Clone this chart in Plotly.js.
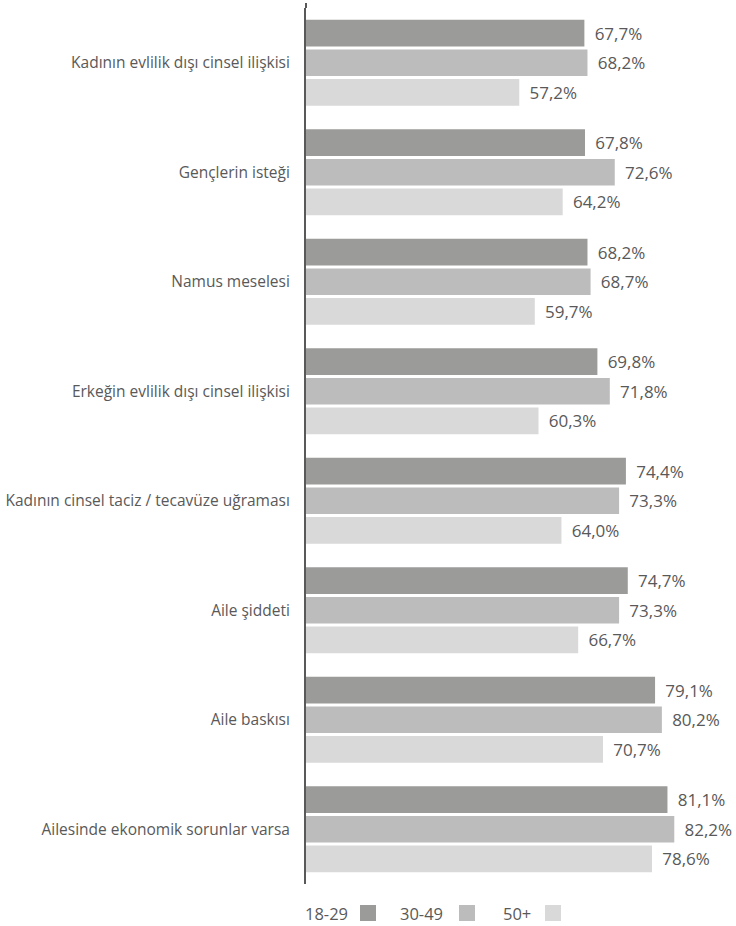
<!DOCTYPE html>
<html><head><meta charset="utf-8">
<script src="https://cdn.plot.ly/plotly-3.0.1.min.js"></script>
<style>body{margin:0;background:#fff}#c{width:736px;height:926px}</style>
</head><body><div id="c"></div>
<script>
const categories = ["Kadının evlilik dışı cinsel ilişkisi","Gençlerin isteği","Namus meselesi","Erkeğin evlilik dışı cinsel ilişkisi","Kadının cinsel taciz / tecavüze uğraması","Aile şiddeti","Aile baskısı","Ailesinde ekonomik sorunlar varsa"];
const seriesNames = ["18-29","30-49","50+"];
const v1829 = [67.7,67.8,68.2,69.8,74.4,74.7,79.1,81.1];
const v3049 = [68.2,72.6,68.7,71.8,73.3,73.3,80.2,82.2];
const v50 = [57.2,64.2,59.7,60.3,64.0,66.7,70.7,78.6];
const colors = ["#9b9b99","#bcbcbc","#d9d9d9"];
const fmt = v => " \u2009" + v.toFixed(1).replace(".", ",") + "%";
const vals = [v1829, v3049, v50];
const font = "Open Sans, sans-serif";
const traces = vals.map((v,i)=>({
  type:"bar", orientation:"h", y:categories, x:v, name:seriesNames[i],
  marker:{color:colors[i]}, text:v.map(fmt), textposition:"outside", constraintext:"none",
  textfont:{family:font,size:17,color:"#595959"}, cliponaxis:false, hoverinfo:"none"
}));
const annotations = [], shapes = [];
const legX = [[303,360],[398,459],[501,545]];
const W=736,H=926,L=306,R=20,T=8,B=42;
const px = x => (x-L)/(W-L-R);
const py = y => (H-B-y)/(H-T-B);
seriesNames.forEach((n,i)=>{
  annotations.push({xref:"paper",yref:"paper",x:px(legX[i][0]),y:py(913),xanchor:"left",yanchor:"middle",text:n,showarrow:false,font:{family:font,size:16.5,color:"#595959"}});
  shapes.push({type:"rect",xref:"paper",yref:"paper",x0:px(legX[i][1]),x1:px(legX[i][1]+16),y0:py(905),y1:py(921),fillcolor:colors[i],line:{width:0}});
});
shapes.push({type:"line",xref:"paper",yref:"paper",x0:0,x1:0,y0:1,y1:py(3),line:{color:"#595959",width:2}});
const layout = {
  width:W,height:H,margin:{l:L,r:R,t:T,b:B},
  paper_bgcolor:"#fff",plot_bgcolor:"#fff",
  barmode:"group",bargap:0.187,bargroupgap:0.1,showlegend:false,
  xaxis:{range:[22.8,22.8+(W-L-R)/6.2],visible:false,fixedrange:true},
  yaxis:{autorange:"reversed",showline:true,linecolor:"#595959",linewidth:2,ticks:"",ticklabelstandoff:11,
    tickfont:{family:font,size:15.5,color:"#595959"},showgrid:false,zeroline:false},
  annotations, shapes
};
Plotly.newPlot("c",traces,layout,{displayModeBar:false,staticPlot:true});
</script></body></html>
